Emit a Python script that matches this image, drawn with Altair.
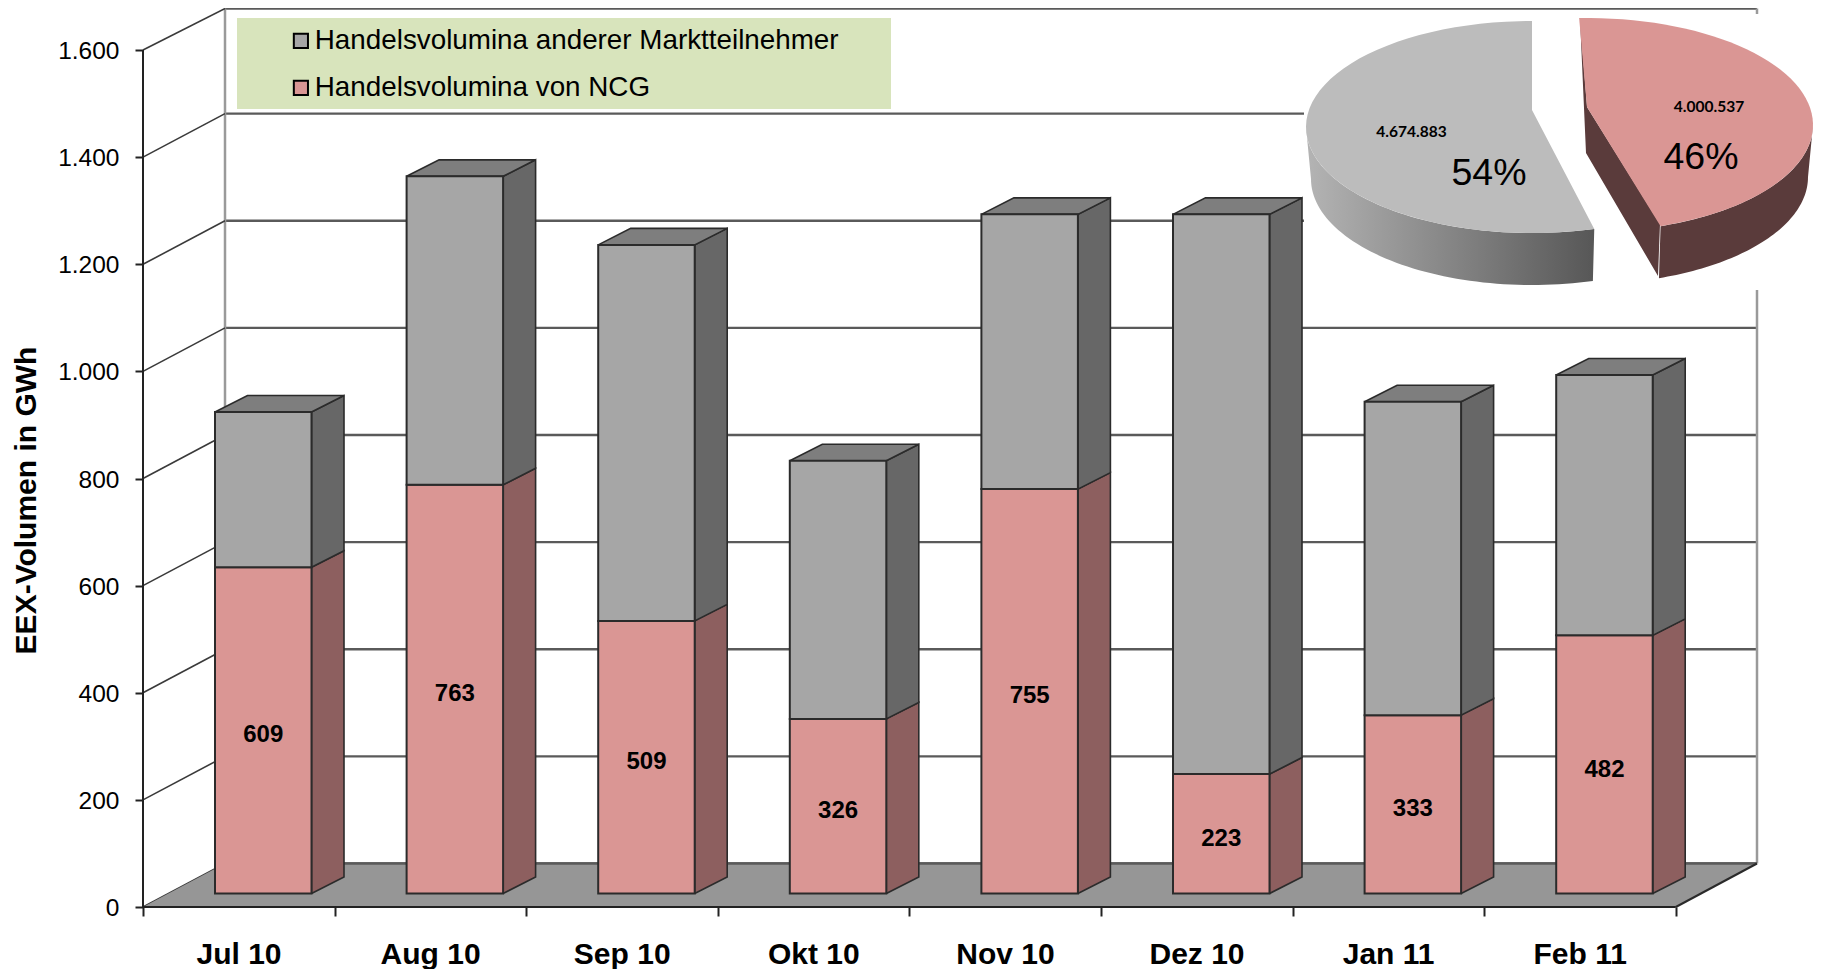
import altair as alt
import numpy as np
import pandas as pd

months = ["Jul 10", "Aug 10", "Sep 10", "Okt 10", "Nov 10", "Dez 10", "Jan 11", "Feb 11"]
ncg = [609, 763, 509, 326, 755, 223, 333, 482]
others = [290, 576, 702, 482, 513, 1045, 585, 486]
y_ticks = [0, 200, 400, 600, 800, 1000, 1200, 1400, 1600]
x_ticks = [0, 1, 2, 3, 4, 5, 6, 7, 8]
pie_values = [4674883, 4000537]
pie_number_labels = ["4.674.883", "4.000.537"]
label_other = "Handelsvolumina anderer Marktteilnehmer"
label_ncg = "Handelsvolumina von NCG"

FONT = "Liberation Sans"
RED, GREY = "#da9694", "#a6a6a6"
RED_SIDE, GREY_SIDE, GREY_TOP = "#8d5f5f", "#676767", "#7e7e7e"

# page geometry of the drawing (pixels of the photographed page)
ORIGIN_X, ORIGIN_Y = 143.0, 907.0
PX_PER_CAT, PX_PER_GWH = 191.6, 0.5356
PLOT_W, PLOT_H = 1672, 899


def ux(px):
    return (px - ORIGIN_X) / PX_PER_CAT


def uy(py):
    return (ORIGIN_Y - py) / PX_PER_GWH


sx = alt.Scale(domain=[0, PLOT_W / PX_PER_CAT], range=[0, PLOT_W], nice=False, zero=False)
sy = alt.Scale(domain=[0, PLOT_H / PX_PER_GWH], range=[PLOT_H, 0], nice=False, zero=False)

month_expr = "[" + ",".join(f"'{m}'" for m in months) + ",''][datum.value]"
x_axis = alt.Axis(
    title=None, values=x_ticks, grid=False, domain=False, tickSize=9, tickWidth=2, tickColor="#222222",
    labelExpr=month_expr, labelOffset=95.5, labelFontSize=30, labelFontWeight="bold", labelFont=FONT,
    labelColor="#000000", labelPadding=23, labelOverlap=False, labelFlush=False, labelBound=False,
    labelAlign="center",
)
y_axis = alt.Axis(
    values=y_ticks, grid=False, domain=False, tickSize=8, tickWidth=2, tickColor="#222222",
    labelExpr="replace(format(datum.value, ','), ',', '.')", labelFontSize=24.5, labelFont=FONT,
    labelColor="#000000", labelPadding=16, labelOverlap=False, labelBound=False, labelOffset=1.5,
    title="EEX-Volumen in GWh", titleFontSize=30, titleFontWeight="bold", titleFont=FONT,
    titleColor="#000000", titleAngle=270, titleX=-117, titleY=492, titleAlign="center",
    titleBaseline="middle",
)


def X(f="x"):
    return alt.X(f"{f}:Q", scale=sx, axis=x_axis)


def Y(f="y"):
    return alt.Y(f"{f}:Q", scale=sy, axis=y_axis)


# 3D offsets
WALL_DX, WALL_DY = ux(225), uy(ORIGIN_Y - 43.5)
BAR_LEFT, BAR_W = ux(215), 96.5 / PX_PER_CAT
BAR_DX, BAR_DY = 32.5 / PX_PER_CAT, 16.5 / PX_PER_GWH
BAR_BASE = 13.5 / PX_PER_GWH
WALL_RIGHT = ux(1757)
TOP_VALUE = PLOT_H / PX_PER_GWH - 1


def rules(df, color, width):
    return alt.Chart(pd.DataFrame(df)).mark_rule(color=color, strokeWidth=width).encode(
        x=X(), x2=alt.X2("x2:Q"), y=Y(), y2=alt.Y2("y2:Q")
    )


def poly(points, fill, stroke="transparent", width=0, closed=False):
    pts = list(points)
    if closed:
        pts = pts + [pts[0]]
    df = pd.DataFrame({"x": [p[0] for p in pts], "y": [p[1] for p in pts], "i": range(len(pts))})
    return (
        alt.Chart(df)
        .mark_line(fill=fill, stroke=stroke, strokeWidth=width, interpolate="linear")
        .encode(x=X(), y=Y(), order=alt.Order("i:Q"))
    )


def arc(cx, cy, a, b, d0, d1, n=60):
    t = np.radians(np.linspace(d0, d1, n))
    return [(ux(cx + a * np.cos(v)), uy(cy - b * np.sin(v))) for v in t]


def P(px, py):
    return (ux(px), uy(py))


# ---- walls and floor --------------------------------------------------
floor = poly([(0, 0), (8, 0), (WALL_RIGHT, WALL_DY), (WALL_DX, WALL_DY)], "#969696", closed=True)
grid_back = [
    {"x": WALL_DX, "y": min(v + WALL_DY, TOP_VALUE), "x2": WALL_RIGHT, "y2": min(v + WALL_DY, TOP_VALUE)}
    for v in y_ticks
]
diag = [{"x": 0, "y": v, "x2": WALL_DX, "y2": min(v + WALL_DY, TOP_VALUE)} for v in y_ticks]
diag_right = [{"x": 8, "y": 0, "x2": WALL_RIGHT, "y2": WALL_DY}]
walls = [
    {"x": WALL_DX, "y": WALL_DY, "x2": WALL_DX, "y2": TOP_VALUE},
    {"x": WALL_RIGHT, "y": WALL_DY, "x2": WALL_RIGHT, "y2": TOP_VALUE},
]
front_axes = [
    {"x": 0, "y": 0, "x2": 0, "y2": 1600},
    {"x": 0, "y": 0, "x2": 8, "y2": 0},
]


# ---- legend backing and the picture area behind the pie ---------------
def rect(px0, py0, px1, py1, color):
    df = pd.DataFrame([{"x": ux(px0), "x2": ux(px1), "y": uy(py0), "y2": uy(py1)}])
    return alt.Chart(df).mark_rect(color=color).encode(x=X(), x2=alt.X2("x2:Q"), y=Y(), y2=alt.Y2("y2:Q"))


legend_box = rect(237, 18, 891, 109, "#d8e4bc")
pie_bg = rect(1304, 14, 1815, 290, "#ffffff")

# ---- bars -------------------------------------------------------------
rows = []
for i, (n, o) in enumerate(zip(ncg, others)):
    x0 = i + BAR_LEFT
    x1 = x0 + BAR_W
    rows.append(dict(m=months[i], s=label_ncg, x=x0, x2=x1, y=BAR_BASE, y2=BAR_BASE + n))
    rows.append(dict(m=months[i], s=label_other, x=x0, x2=x1, y=BAR_BASE + n, y2=BAR_BASE + n + o))
bars_df = pd.DataFrame(rows)

fronts = (
    alt.Chart(bars_df)
    .mark_bar(stroke="#2b2b2b", strokeWidth=2)
    .encode(
        x=X(), x2=alt.X2("x2:Q"), y=Y(), y2=alt.Y2("y2:Q"),
        color=alt.Color(
            "s:N",
            scale=alt.Scale(domain=[label_other, label_ncg], range=[GREY, RED]),
            legend=alt.Legend(
                title=None, orient="none", legendX=144, legendY=19, padding=0, zindex=1,
                symbolType="square", symbolSize=200, symbolStrokeColor="#000000", symbolStrokeWidth=2,
                symbolOpacity=1, labelFont=FONT, labelFontSize=27.8, labelColor="#000000", labelOffset=0,
                rowPadding=18, labelLimit=700,
            ),
        ),
    )
)

faces = []
for i, (n, o) in enumerate(zip(ncg, others)):
    x1 = i + BAR_LEFT + BAR_W
    x0 = i + BAR_LEFT
    b, m, t = BAR_BASE, BAR_BASE + n, BAR_BASE + n + o
    faces.append(poly([(x1, b), (x1 + BAR_DX, b + BAR_DY), (x1 + BAR_DX, m + BAR_DY), (x1, m)],
                      RED_SIDE, "#2b2b2b", 1.6, True))
    faces.append(poly([(x1, m), (x1 + BAR_DX, m + BAR_DY), (x1 + BAR_DX, t + BAR_DY), (x1, t)],
                      GREY_SIDE, "#2b2b2b", 1.6, True))
    faces.append(poly([(x0, t), (x1, t), (x1 + BAR_DX, t + BAR_DY), (x0 + BAR_DX, t + BAR_DY)],
                      GREY_TOP, "#2b2b2b", 1.6, True))

bar_labels = (
    alt.Chart(pd.DataFrame({
        "x": [i + BAR_LEFT + BAR_W / 2 for i in range(len(ncg))],
        "y": [BAR_BASE + n / 2 - 9.5 for n in ncg],
        "t": [str(n) for n in ncg],
    }))
    .mark_text(font=FONT, fontSize=24, fontWeight="bold", color="#000000", align="center", baseline="middle")
    .encode(x=X(), y=Y(), text="t:N")
)

# ---- pie --------------------------------------------------------------
shares = [v / sum(pie_values) for v in pie_values]
pct = [f"{round(s * 100)}%" for s in shares]
G_END, R_END = 90 + 360 * shares[0] + 2, -71

grey_side = poly(
    arc(1532, 127, 226, 106, 180, G_END) + arc(1532, 179, 221, 106, G_END, 180),
    alt.LinearGradient(gradient="linear",
                       stops=[alt.GradientStop(color="#b4b4b4", offset=0),
                              alt.GradientStop(color="#575757", offset=1)],
                       x1=0, x2=1, y1=0, y2=0),
)
grey_top = poly([P(1532, 110)] + arc(1532, 127, 226, 106, 90, G_END) + [P(1532, 110)], "#bcbcbc")
red_flat = poly([P(1580, 18), P(1587, 107), P(1660, 224), P(1658, 276), P(1586, 153)], "#5a3b3b", closed=True)
red_side = poly(arc(1587, 125, 226, 107, 0, R_END) + arc(1587, 177, 221, 107, R_END, 0), "#5a3b3b")
red_top = poly([P(1587, 107)] + arc(1587, 125, 226, 107, R_END, 92) + [P(1587, 107)], RED)


def text(px, py, s, size, weight="normal", font=FONT):
    df = pd.DataFrame([{"x": ux(px), "y": uy(py), "t": s}])
    return alt.Chart(df).mark_text(
        font=font, fontSize=size, fontWeight=weight, color="#000000", align="center", baseline="middle"
    ).encode(x=X(), y=Y(), text="t:N")


pie_texts = [
    text(1411.5, 132, pie_number_labels[0], 15.5, "bold", "Lato"),
    text(1709, 107, pie_number_labels[1], 15.5, "bold", "Lato"),
    text(1489, 174, pct[0], 37.5),
    text(1701, 158, pct[1], 37.5),
]

chart = alt.layer(
    rules(grid_back, "#5a5a5a", 2.4),
    rules(walls, "#9a9a9a", 2.5),
    rules(diag, "#3a3a3a", 1.6),
    floor,
    rules(grid_back[:1], "#5a5a5a", 2.4),
    rules(diag_right, "#2a2a2a", 2),
    rules(front_axes, "#222222", 2),
    legend_box,
    pie_bg,
    *faces,
    fronts,
    bar_labels,
    grey_side, grey_top, red_flat, red_side, red_top,
    *pie_texts,
).properties(
    width=PLOT_W,
    height=PLOT_H,
    background="#ffffff",
    autosize=alt.AutoSizeParams(type="none"),
    padding={"left": 135, "top": 0, "right": 0, "bottom": 62},
).configure_view(stroke=None)

chart.save("out.html", embed_options={"renderer": "svg", "actions": False})
